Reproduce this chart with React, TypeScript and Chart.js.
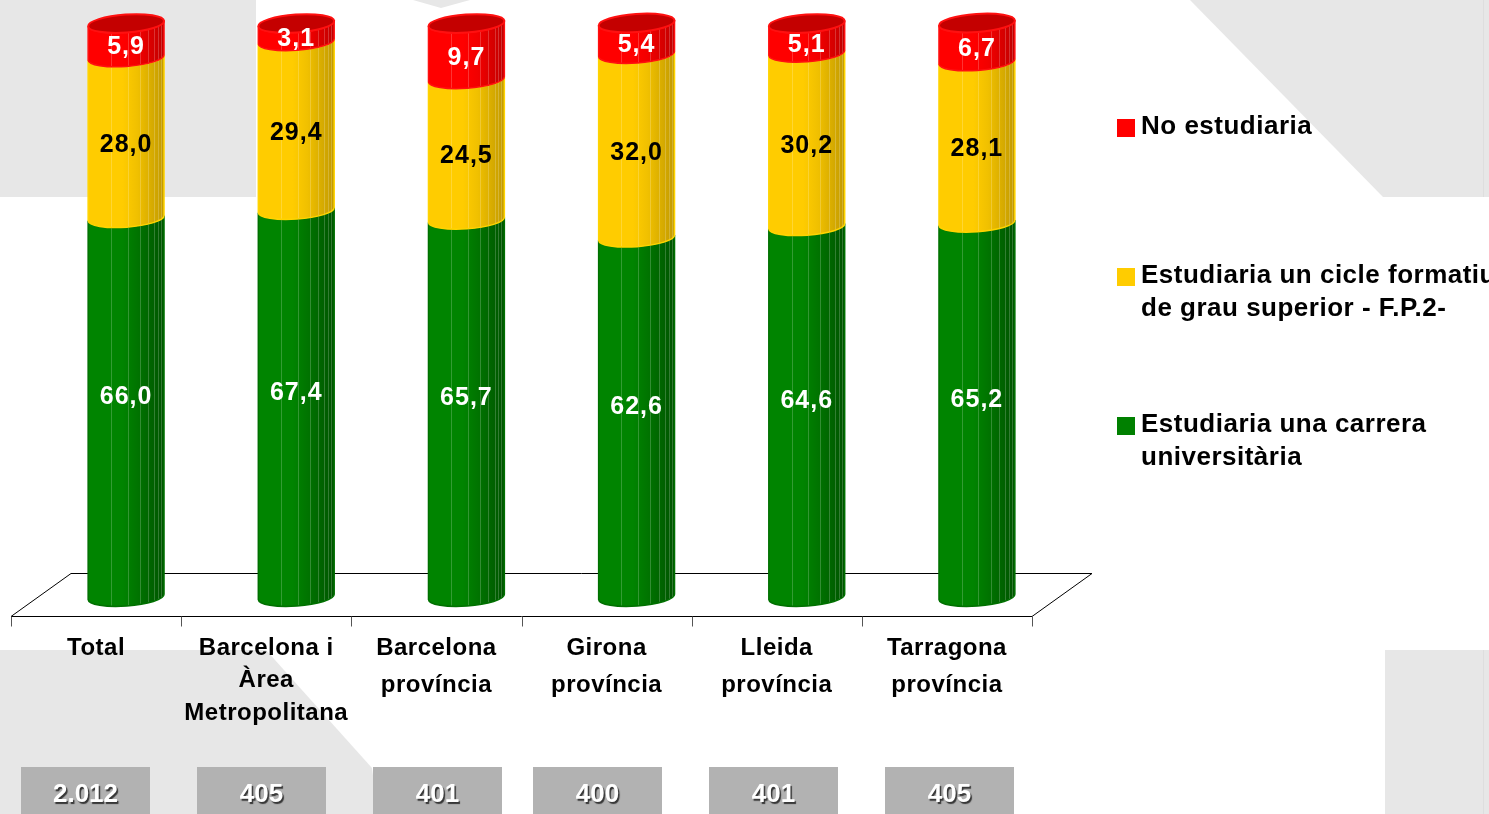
import React, { useEffect, useRef } from 'react';
import { Chart, registerables } from 'chart.js';

Chart.register(...registerables);

// ---------- data ----------
const CATEGORIES: string[][] = [
  ['Total'],
  ['Barcelona i', 'Àrea', 'Metropolitana'],
  ['Barcelona', 'província'],
  ['Girona', 'província'],
  ['Lleida', 'província'],
  ['Tarragona', 'província'],
];
const UNIVERSITARIA = [66.0, 67.4, 65.7, 62.6, 64.6, 65.2];
const CICLE_FP2 = [28.0, 29.4, 24.5, 32.0, 30.2, 28.1];
const NO_ESTUDIARIA = [5.9, 3.1, 9.7, 5.4, 5.1, 6.7];
const SAMPLE_SIZES = ['2.012', '405', '401', '400', '401', '405'];
const SERIES_NAMES = [
  'Estudiaria una carrera universitària',
  'Estudiaria un cicle formatiu de grau superior - F.P.2-',
  'No estudiaria',
];
const LEGEND_LINES: string[][] = [
  ['Estudiaria una carrera', 'universitària'],
  ['Estudiaria un cicle formatiu', 'de grau superior - F.P.2-'],
  ['No estudiaria'],
];

// ---------- style ----------
const FONT = '"Liberation Sans", Arial, sans-serif';
const STYLES = [
  { light: '#008400', mid: '#007400', dark: '#005400', edge: '#007000', cap: '#005000', text: '#ffffff', dy: -10 },
  { light: '#ffcc00', mid: '#f0c000', dark: '#c29a00', edge: '#ffd400', cap: '#c9a000', text: '#000000', dy: 7 },
  { light: '#ff0000', mid: '#f20000', dark: '#c00000', edge: '#ff1010', cap: '#c40000', text: '#ffffff', dy: 7 },
];
const BOX_LEFT = [21, 197, 373, 533, 709, 885];
const RY = 9;
const ROT = -0.07;
const DEPTH_X = 30;

function segPath(ctx: CanvasRenderingContext2D, cx: number, yTop: number, yBot: number, rx: number) {
  ctx.beginPath();
  ctx.ellipse(cx, yTop, rx, RY, ROT, Math.PI, 0, true);
  ctx.ellipse(cx, yBot, rx, RY, ROT, 0, Math.PI, false);
  ctx.closePath();
}

const decoPlugin = {
  id: 'deco',
  beforeDraw(chart: any) {
    const ctx: CanvasRenderingContext2D = chart.ctx;
    const W = chart.width, H = chart.height;
    ctx.save();
    ctx.fillStyle = '#ffffff';
    ctx.fillRect(0, 0, W, H);
    ctx.fillStyle = '#e7e7e7';
    ctx.fillRect(0, 0, 256, 197);
    ctx.beginPath();
    ctx.moveTo(413, 0); ctx.lineTo(470, 0); ctx.lineTo(441, 8); ctx.closePath(); ctx.fill();
    ctx.beginPath();
    ctx.moveTo(1190, 0); ctx.lineTo(W, 0); ctx.lineTo(W, 197); ctx.lineTo(1383, 197); ctx.closePath(); ctx.fill();
    ctx.beginPath();
    ctx.moveTo(0, 650); ctx.lineTo(266, 650); ctx.lineTo(372, 768); ctx.lineTo(378, H); ctx.lineTo(0, H); ctx.closePath(); ctx.fill();
    ctx.fillRect(1385, 650, W - 1385, H - 650);
    ctx.strokeStyle = '#dedede';
    ctx.lineWidth = 1;
    ctx.beginPath();
    ctx.moveTo(1483.5, 0); ctx.lineTo(1483.5, 197);
    ctx.moveTo(1483.5, 650); ctx.lineTo(1483.5, H);
    ctx.stroke();
    ctx.restore();
  },
  beforeDatasetsDraw(chart: any) {
    const ctx: CanvasRenderingContext2D = chart.ctx;
    const y = chart.scales.y;
    const base = y.getPixelForValue(0);
    const frontY = Math.round(base + 19) + 0.5;
    const backY = Math.round(base - 24) + 0.5;
    const l = chart.chartArea.left, r = chart.chartArea.right;
    ctx.save();
    ctx.strokeStyle = '#000000';
    ctx.lineWidth = 1;
    ctx.beginPath();
    ctx.moveTo(l - DEPTH_X, frontY); ctx.lineTo(r - DEPTH_X, frontY);
    ctx.lineTo(r + DEPTH_X, backY); ctx.lineTo(l + DEPTH_X, backY);
    ctx.closePath();
    ctx.stroke();
    ctx.strokeStyle = '#555555';
    const n = chart.data.labels.length;
    const step = (r - l) / n;
    ctx.beginPath();
    for (let i = 0; i <= n; i++) {
      const tx = Math.round(l - DEPTH_X + i * step) + 0.5;
      ctx.moveTo(tx, frontY); ctx.lineTo(tx, frontY + 10);
    }
    ctx.stroke();
    ctx.restore();
  },
  beforeDatasetDraw() {
    return false;
  },
  afterDatasetsDraw(chart: any) {
    const ctx: CanvasRenderingContext2D = chart.ctx;
    const nCat = chart.data.labels.length;
    const nSet = chart.data.datasets.length;
    ctx.save();
    for (let i = 0; i < nCat; i++) {
      for (let d = 0; d < nSet; d++) {
        const el = chart.getDatasetMeta(d).data[i];
        const st = STYLES[d];
        const cx = el.x, rx = el.width / 2;
        const yTop = el.y, yBot = el.base;
        const g = ctx.createLinearGradient(cx - rx, 0, cx + rx, 0);
        g.addColorStop(0, st.light);
        g.addColorStop(0.45, st.light);
        g.addColorStop(0.65, st.mid);
        g.addColorStop(1, st.dark);
        segPath(ctx, cx, yTop, yBot, rx);
        ctx.fillStyle = g;
        ctx.fill();
        ctx.save();
        ctx.clip();
        ctx.strokeStyle = 'rgba(255,255,255,0.2)';
        ctx.lineWidth = 1;
        ctx.beginPath();
        for (const f of [0.3, 0.52, 0.68, 0.79, 0.87, 0.92, 0.96]) {
          const sx = Math.round(cx - rx + f * 2 * rx) + 0.5;
          ctx.moveTo(sx, yTop - RY - 4); ctx.lineTo(sx, yBot + RY + 4);
        }
        ctx.stroke();
        ctx.restore();
        segPath(ctx, cx, yTop, yBot, rx);
        ctx.strokeStyle = st.edge;
        ctx.lineWidth = 1.5;
        ctx.stroke();
        if (d === nSet - 1) {
          ctx.beginPath();
          ctx.ellipse(cx, yTop, rx, RY, ROT, 0, Math.PI * 2);
          ctx.fillStyle = st.cap;
          ctx.fill();
          ctx.strokeStyle = st.edge;
          ctx.lineWidth = 2;
          ctx.stroke();
        }
      }
    }
    ctx.font = `bold 25px ${FONT}`;
    (ctx as any).letterSpacing = '1px';
    ctx.textAlign = 'center';
    ctx.textBaseline = 'middle';
    for (let d = 0; d < nSet; d++) {
      const meta = chart.getDatasetMeta(d);
      const vals = chart.data.datasets[d].data;
      meta.data.forEach((el: any, i: number) => {
        ctx.fillStyle = STYLES[d].text;
        const txt = Number(vals[i]).toFixed(1).replace('.', ',');
        ctx.fillText(txt, el.x, (el.y + el.base) / 2 + STYLES[d].dy);
      });
    }
    ctx.restore();
  },
  afterDraw(chart: any) {
    const ctx: CanvasRenderingContext2D = chart.ctx;
    const xs = chart.scales.x;
    const labels: string[][] = chart.data.labels;
    ctx.save();
    ctx.font = `bold 24px ${FONT}`;
    (ctx as any).letterSpacing = '0.5px';
    ctx.textAlign = 'center';
    ctx.textBaseline = 'middle';
    ctx.fillStyle = '#000000';
    labels.forEach((lines, i) => {
      const cx = xs.getPixelForValue(i) - DEPTH_X;
      const pitch = lines.length > 2 ? 32.5 : 37;
      lines.forEach((ln, k) => ctx.fillText(ln, cx, 648 + k * pitch));
    });
    SAMPLE_SIZES.forEach((s, i) => {
      ctx.fillStyle = '#b2b2b2';
      ctx.fillRect(BOX_LEFT[i], 767, 129, 47);
      ctx.save();
      ctx.font = `bold 26px ${FONT}`;
      (ctx as any).letterSpacing = '0px';
      ctx.shadowColor = 'rgba(40,40,40,0.9)';
      ctx.shadowOffsetX = 1.5;
      ctx.shadowOffsetY = 1.5;
      ctx.shadowBlur = 1;
      ctx.fillStyle = '#ffffff';
      ctx.fillText(s, BOX_LEFT[i] + 64.5, 795);
      ctx.restore();
    });
    ctx.font = `bold 26px ${FONT}`;
    (ctx as any).letterSpacing = '0.5px';
    ctx.textAlign = 'left';
    const nSet = chart.data.datasets.length;
    for (let k = 0; k < nSet; k++) {
      const d = nSet - 1 - k;
      const top = 119 + k * 149;
      ctx.fillStyle = chart.data.datasets[d].backgroundColor;
      ctx.fillRect(1117, top, 18, 18);
      ctx.fillStyle = '#000000';
      LEGEND_LINES[d].forEach((ln, j) => ctx.fillText(ln, 1141, top + 8 + j * 33));
    }
    ctx.restore();
  },
};

export default function App() {
  const ref = useRef<HTMLCanvasElement | null>(null);
  useEffect(() => {
    if (!ref.current) return;
    const chart = new Chart(ref.current, {
      type: 'bar',
      data: {
        labels: CATEGORIES as any,
        datasets: [
          { label: SERIES_NAMES[0], data: UNIVERSITARIA, backgroundColor: '#008000' },
          { label: SERIES_NAMES[1], data: CICLE_FP2, backgroundColor: '#ffcc00' },
          { label: SERIES_NAMES[2], data: NO_ESTUDIARIA, backgroundColor: '#ff0000' },
        ],
      },
      options: {
        responsive: false,
        animation: false,
        events: [],
        layout: { padding: { left: 41, right: 427, top: 23, bottom: 217 } },
        datasets: { bar: { categoryPercentage: 1, barPercentage: 0.447 } },
        scales: {
          x: { stacked: true, display: false },
          y: { stacked: true, display: false, min: 0, max: 100 },
        },
        plugins: { legend: { display: false }, tooltip: { enabled: false } },
      },
      plugins: [decoPlugin],
    });
    return () => chart.destroy();
  }, []);
  return (
    <div style={{ position: 'fixed', left: 0, top: 0, width: 1489, height: 814, background: '#fff' }}>
      <canvas ref={ref} width={1489} height={814} style={{ display: 'block', width: 1489, height: 814 }} />
    </div>
  );
}
